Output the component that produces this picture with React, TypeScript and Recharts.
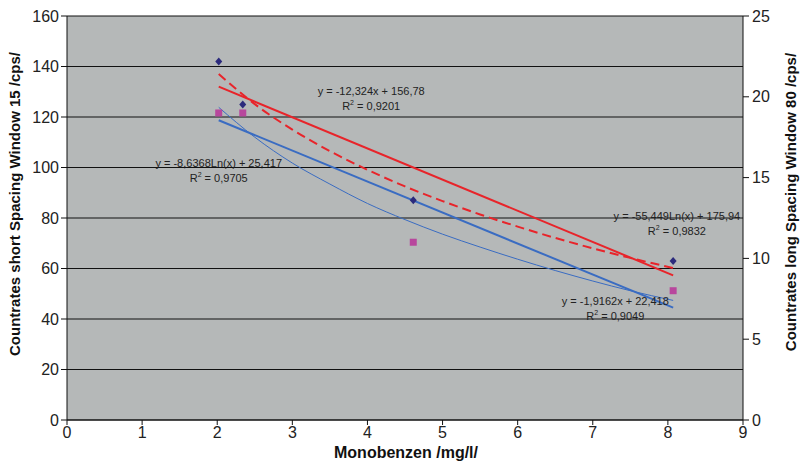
import React from "react";
import { ComposedChart, XAxis, YAxis, CartesianGrid, Line, Scatter, ReferenceDot } from "recharts";

// measured points (x = Monobenzen mg/l)
const conc = [2.02, 2.34, 4.61, 8.07];
const shortWindow = [142, 125, 87, 63];
const longWindow = [19.0, 19.0, 11.0, 8.0];

// trend lines
const shortLinX = [2.02, 8.07];
const shortLinY = [132.0, 57.3];
const shortLogX = [2.02, 2.5, 3, 3.5, 4, 4.5, 5, 5.5, 6, 6.5, 7, 7.5, 8.07];
const shortLogY = [137, 125.1, 115.0, 106.5, 99.1, 92.5, 86.7, 81.4, 76.6, 72.1, 68.0, 64.2, 60.2];
const longLinX = [2.02, 8.07];
const longLinY = [18.55, 6.95];
const longLogX = [2.02, 2.5, 3, 3.5, 4, 4.5, 5, 5.5, 6, 6.5, 7, 7.5, 8.07];
const longLogY = [19.35, 17.5, 15.9, 14.6, 13.4, 12.4, 11.5, 10.7, 9.95, 9.25, 8.6, 8.0, 7.4];

const xTicks = [0, 1, 2, 3, 4, 5, 6, 7, 8, 9];
const leftTicks = [0, 20, 40, 60, 80, 100, 120, 140, 160];
const rightTicks = [0, 5, 10, 15, 20, 25];

const fitLabels = [
  { x: 4.05, y: 130.3, eq: "y = -12,324x + 156,78", r2: "0,9201", axis: "left" },
  { x: 2.02, y: 101.8, eq: "y = -8,6368Ln(x) + 25,417", r2: "0,9705", axis: "left" },
  { x: 8.12, y: 80.8, eq: "y = -55,449Ln(x) + 175,94", r2: "0,9832", axis: "left" },
  { x: 7.3, y: 47.1, eq: "y = -1,9162x + 22,418", r2: "0,9049", axis: "left" },
];

const pts = (xs: number[], ys: number[]) => xs.map((x, i) => ({ x, y: ys[i] }));

const FONT = "'Liberation Sans', Arial, sans-serif";

const Diamond = (p: any) => (
  <polygon points={`${p.cx},${p.cy - 4} ${p.cx + 3.5},${p.cy} ${p.cx},${p.cy + 4} ${p.cx - 3.5},${p.cy}`} fill="#2b2a7c" />
);
const Square = (p: any) => <rect x={p.cx - 3.5} y={p.cy - 3.5} width={7} height={7} fill="#b8479d" />;

const fitText = (eq: string, r2: string) => (p: any) => (
  <g fontFamily={FONT} fontSize={11} fill="#222">
    <text x={p.cx} y={p.cy + 4} textAnchor="middle">{eq}</text>
    <text x={p.cx} y={p.cy + 19} textAnchor="middle">
      R<tspan fontSize={7} dy={-5}>2</tspan>
      <tspan dy={5}> = {r2}</tspan>
    </text>
  </g>
);

const titleStyle = { fontFamily: FONT, fontSize: 15, fontWeight: 700, fill: "#111" };

const XTitle = ({ viewBox }: any) => (
  <text x={viewBox.x + viewBox.width / 2 + 1} y={458} textAnchor="middle" {...titleStyle} fontSize={16}>
    Monobenzen /mg/l/
  </text>
);
const LeftTitle = () => (
  <text x={20} y={204} transform="rotate(-90 20 204)" textAnchor="middle" {...titleStyle}>
    Countrates short Spacing Window 15 /cps/
  </text>
);
const RightTitle = () => (
  <text x={796} y={202} transform="rotate(-90 796 202)" textAnchor="middle" {...titleStyle}>
    Countrates long Spacing Window 80 /cps/
  </text>
);

export default function App() {
  return (
    <div style={{ position: "absolute", left: 0, top: 0, background: "#fff" }}>
      <ComposedChart width={800} height={464} margin={{ top: 16, right: 0, bottom: 0, left: 0 }} style={{ fontFamily: FONT }}>
        <CartesianGrid vertical={false} stroke="#111" strokeWidth={1.2} fill="#b5b8b8" yAxisId="left" />
        <XAxis
          dataKey="x"
          type="number"
          domain={[0, 9]}
          ticks={xTicks}
          height={44}
          stroke="#111"
          tickSize={5}
          tickMargin={2}
          tick={{ fill: "#222", fontSize: 16 }}
          label={<XTitle />}
        />
        <YAxis
          yAxisId="left"
          domain={[0, 160]}
          ticks={leftTicks}
          width={67}
          stroke="#111"
          tickSize={6}
          tickMargin={2}
          tick={{ fill: "#222", fontSize: 16 }}
          label={<LeftTitle />}
        />
        <YAxis
          yAxisId="right"
          orientation="right"
          domain={[0, 25]}
          ticks={rightTicks}
          width={57}
          stroke="#111"
          tickSize={6}
          tickMargin={3}
          tick={{ fill: "#222", fontSize: 16 }}
          label={<RightTitle />}
        />
        <Line yAxisId="left" data={pts(shortLinX, shortLinY)} dataKey="y" type="linear" stroke="#e8242a" strokeWidth={2} dot={false} isAnimationActive={false} />
        <Line yAxisId="left" data={pts(shortLogX, shortLogY)} dataKey="y" type="monotone" stroke="#e8242a" strokeWidth={2} strokeDasharray="9 5" dot={false} isAnimationActive={false} />
        <Line yAxisId="right" data={pts(longLinX, longLinY)} dataKey="y" type="linear" stroke="#3a6cc2" strokeWidth={2} dot={false} isAnimationActive={false} />
        <Line yAxisId="right" data={pts(longLogX, longLogY)} dataKey="y" type="monotone" stroke="#3a6cc2" strokeWidth={1} dot={false} isAnimationActive={false} />
        <Scatter yAxisId="left" data={pts(conc, shortWindow)} dataKey="y" shape={Diamond} isAnimationActive={false} />
        <Scatter yAxisId="right" data={pts(conc, longWindow)} dataKey="y" shape={Square} isAnimationActive={false} />
        {fitLabels.map((l) => (
          <ReferenceDot key={l.eq} yAxisId={l.axis} x={l.x} y={l.y} r={1} shape={fitText(l.eq, l.r2)} />
        ))}
      </ComposedChart>
    </div>
  );
}
